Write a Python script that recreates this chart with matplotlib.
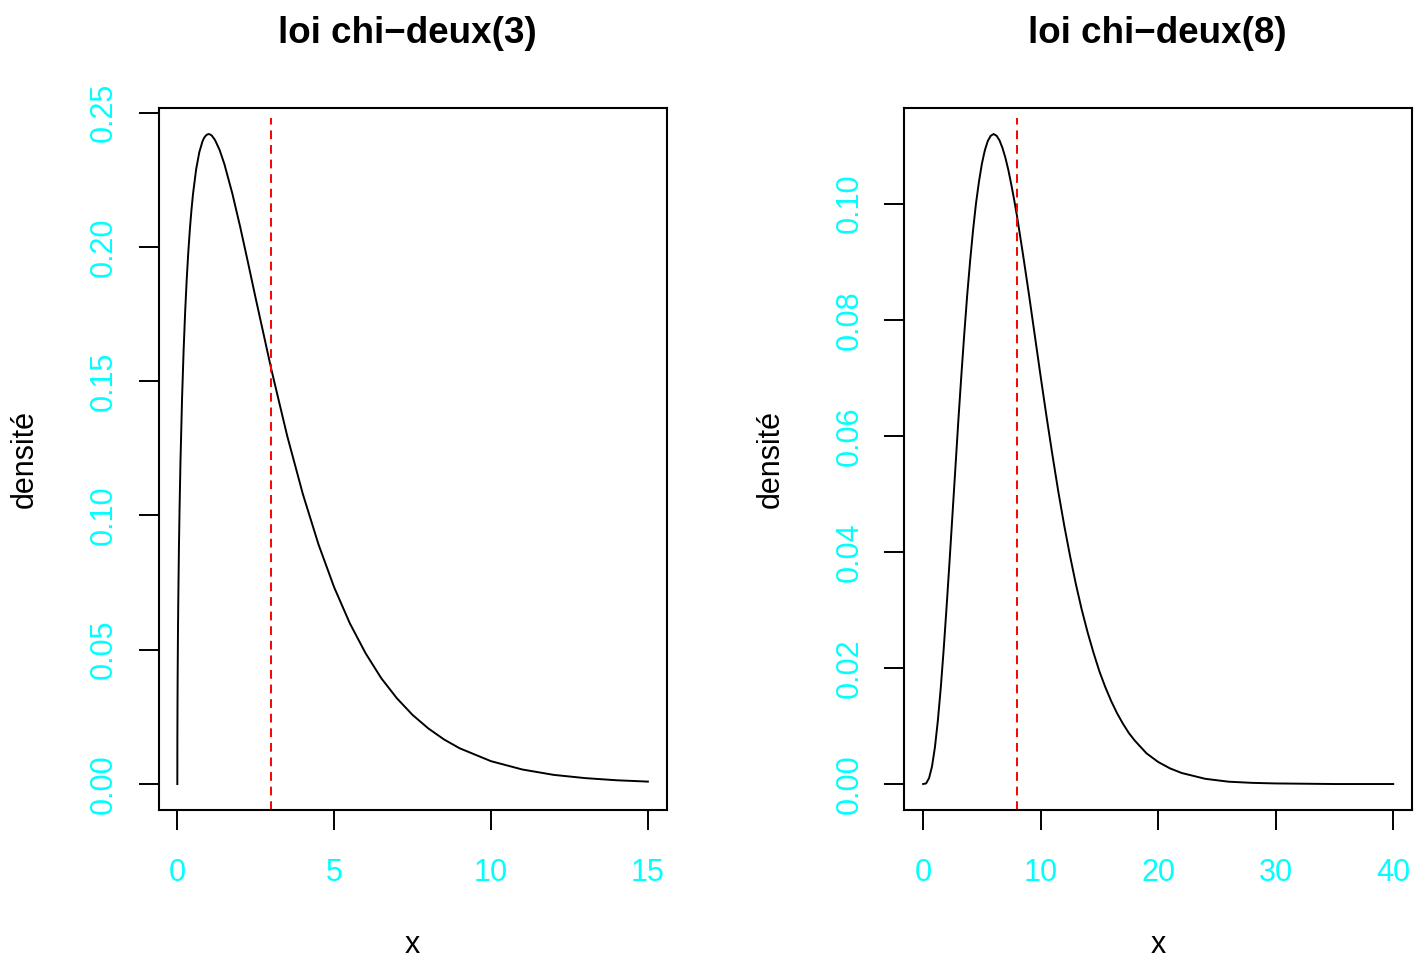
import numpy as np
import matplotlib
matplotlib.use("Agg")
import matplotlib.pyplot as plt

plt.rcParams['font.family'] = ['Liberation Sans', 'DejaVu Sans']

# densite chi-deux(3), valeurs
x3 = [0, 0.001, 0.002, 0.005, 0.01, 0.02, 0.03, 0.05, 0.07, 0.1, 0.15, 0.2,
      0.25, 0.3, 0.35, 0.4, 0.45, 0.5, 0.6, 0.7, 0.8, 0.85, 0.9, 0.95, 1,
      1.05, 1.1, 1.2, 1.35, 1.5, 1.75, 2, 2.25, 2.5, 3, 3.5, 4, 4.5, 5, 5.5,
      6, 6.5, 7, 7.5, 8, 8.5, 9, 10, 11, 12, 13, 14, 15]
d3 = [0, 0.0126, 0.0178, 0.0281, 0.0397, 0.0559, 0.0681, 0.0870, 0.1019,
      0.1200, 0.1433, 0.1614, 0.1760, 0.1881, 0.1981, 0.2066, 0.2137, 0.2197,
      0.2289, 0.2352, 0.2392, 0.2405, 0.2413, 0.2418, 0.2420, 0.2418, 0.2414,
      0.2398, 0.2360, 0.2308, 0.2200, 0.2076, 0.1943, 0.1807, 0.1542, 0.1297,
      0.1080, 0.0892, 0.0732, 0.0598, 0.0487, 0.0394, 0.0319, 0.0257, 0.0207,
      0.0166, 0.0133, 0.0085, 0.0054, 0.0034, 0.0022, 0.0014, 0.0009]

# densite chi-deux(8)
x8 = [0, 0.25, 0.5, 0.75, 1, 1.25, 1.5, 1.75, 2, 2.25, 2.5, 3, 3.25, 3.5,
      3.75, 4, 4.25, 4.5, 4.75, 5, 5.25, 5.5, 5.75, 6, 6.25, 6.5, 6.75, 7,
      7.25, 7.5, 7.75, 8, 8.5, 9, 9.5, 10, 10.5, 11, 11.5, 12, 12.5, 13, 13.5,
      14, 14.5, 15, 15.5, 16, 16.5, 17, 17.5, 18, 19, 20, 21, 22, 24, 26, 28,
      30, 35, 40]
d8 = [0, 0.0001, 0.0010, 0.0030, 0.0063, 0.0109, 0.0166, 0.0233, 0.0307,
      0.0385, 0.0466, 0.0628, 0.0704, 0.0776, 0.0843, 0.0902, 0.0955, 0.1001,
      0.1038, 0.1069, 0.1092, 0.1108, 0.1117, 0.1120, 0.1117, 0.1109, 0.1096,
      0.1079, 0.1058, 0.1033, 0.1006, 0.0977, 0.0912, 0.0844, 0.0773, 0.0702,
      0.0633, 0.0567, 0.0504, 0.0446, 0.0393, 0.0344, 0.0300, 0.0261, 0.0226,
      0.0194, 0.0167, 0.0143, 0.0122, 0.0104, 0.0088, 0.0075, 0.0053, 0.0038,
      0.0027, 0.0019, 0.0009, 0.0004, 0.0002, 0.0001, 0.0, 0.0]

# titre, donnees, moyenne, graduations, position des axes, x du titre
panneaux = [
    ("loi chi\u2212deux(3)", x3, d3, 3, [0, 5, 10, 15],
     [0.00, 0.05, 0.10, 0.15, 0.20, 0.25], [0.1110, 0.1632, 0.3559, 0.7252],
     0.490),
    ("loi chi\u2212deux(8)", x8, d8, 8, [0, 10, 20, 30, 40],
     [0.00, 0.02, 0.04, 0.06, 0.08, 0.10], [0.6333, 0.1632, 0.3555, 0.7252],
     0.498),
]

fig = plt.figure(figsize=(14.28, 9.68), dpi=100)

for titre, x, d, moy, xt, yt, pos, xtitre in panneaux:
    ax = fig.add_axes(pos)
    ax.plot(x, d, color='black', lw=1.4, solid_joinstyle='round')
    ax.axvline(moy, ymin=0, ymax=0.986, color='red', lw=1.4, dashes=(4.5, 3))

    xmax, ymax = max(x), max(d)
    ax.set_xlim(-0.04 * xmax, 1.04 * xmax)
    ax.set_ylim(-0.04 * ymax, 1.04 * ymax)
    ax.set_xticks(xt)
    ax.set_xticklabels([str(v) for v in xt])
    ax.set_yticks(yt)
    ax.set_yticklabels(["%.2f" % v for v in yt])

    for s in ax.spines.values():
        s.set_linewidth(1.5)
    ax.tick_params(length=14.4, width=1.4, labelsize=22, labelcolor='#00FFFF')
    ax.tick_params(axis='x', pad=20)
    ax.tick_params(axis='y', pad=14, labelrotation=90)
    for lab in ax.get_yticklabels():
        lab.set_va('center')

    ax.text(xtitre, 1.092, titre, transform=ax.transAxes, ha='center',
            va='baseline', fontsize=26.5, fontweight='bold')
    ax.text(0.5, -0.192, "x", transform=ax.transAxes, ha='center',
            va='center', fontsize=22)
    ax.text(-0.264, 0.5, "densité", transform=ax.transAxes, ha='center',
            va='center', rotation=90, fontsize=22)

fig.savefig("out.png", dpi=100)
